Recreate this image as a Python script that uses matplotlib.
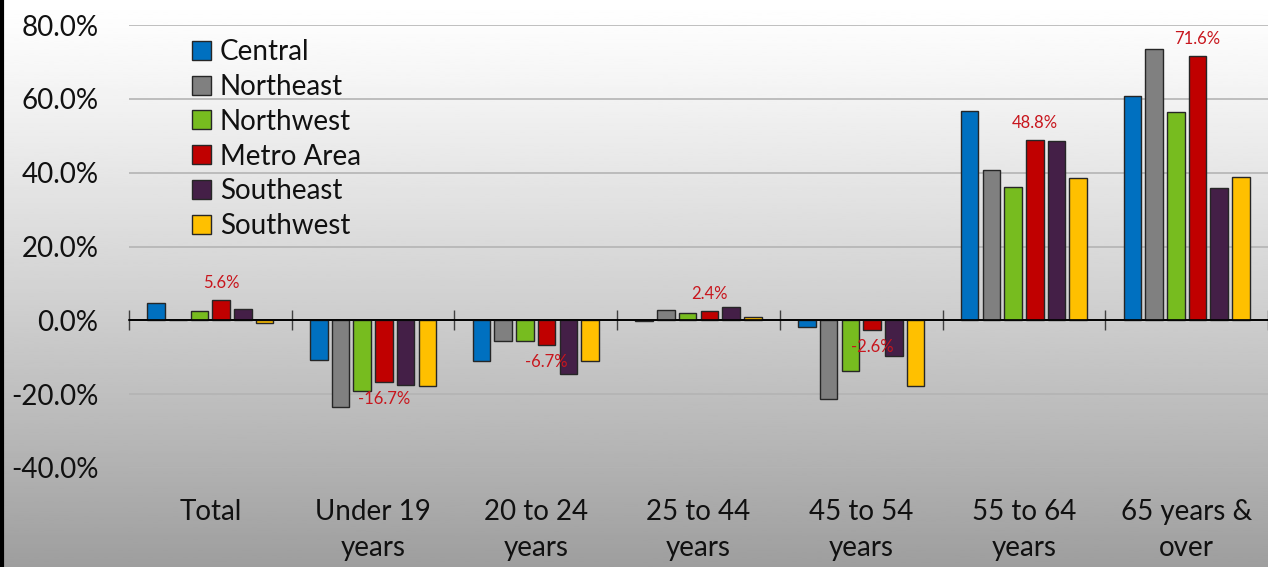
"""Population change by age group and region, grouped bar chart."""

import numpy as np
import matplotlib
matplotlib.use("Agg")
import matplotlib.pyplot as plt
import matplotlib.ticker as ticker
from matplotlib.lines import Line2D

# ---------------------------------------------------------------------------
# Data (percent change)
# ---------------------------------------------------------------------------

CATEGORIES = ["Total", "Under 19\nyears", "20 to 24\nyears", "25 to 44\nyears",
              "45 to 54\nyears", "55 to 64\nyears", "65 years &\nover"]
REGIONS = ["Central", "Northeast", "Northwest", "Metro Area", "Southeast", "Southwest"]

CENTRAL    = [4.8, -10.8, -10.9, -0.2, -1.7, 56.6, 60.7]
NORTHEAST  = [0.2, -23.6, -5.7, 2.7, -21.4, 40.8, 73.4]
NORTHWEST  = [2.4, -19.1, -5.5, 2.1, -13.8, 36.1, 56.4]
METRO_AREA = [5.6, -16.7, -6.7, 2.4, -2.6, 48.8, 71.6]
SOUTHEAST  = [3.2, -17.4, -14.6, 3.5, -9.7, 48.5, 35.9]
SOUTHWEST  = [-0.6, -17.7, -11.1, 0.8, -17.8, 38.6, 38.9]

SERIES = [CENTRAL, NORTHEAST, NORTHWEST, METRO_AREA, SOUTHEAST, SOUTHWEST]
Y_TICKS = [-40, -20, 0, 20, 40, 60, 80]

# ---------------------------------------------------------------------------
# Style
# ---------------------------------------------------------------------------

COLORS = ["#0070C0", "#808080", "#77BC1F", "#C00000", "#441F47", "#FFC000"]
LABEL_COLOR = "#C8161D"
GRID_COLOR = "#b4b4b4"
FONT = "Lato"

BAR_STEP = 0.1335
BAR_WIDTH = 0.108

plt.rcParams["font.family"] = [FONT, "DejaVu Sans"]

fig = plt.figure(figsize=(12.68, 5.67), dpi=100)

# background gradient (white -> grey)
bg = fig.add_axes([0, 0, 1, 1], zorder=-10)
grad = np.linspace(0, 1, 256) ** 1.15
shade = 1.0 - 0.38 * grad
bg.imshow(shade[:, None], aspect="auto", cmap="gray", vmin=0, vmax=1,
          extent=[0, 1, 0, 1], origin="upper")
bg.set_axis_off()

ax = fig.add_axes([129 / 1268, 1 - 468 / 567, (1268 - 129) / 1268, (468 - 25) / 567])
ax.patch.set_alpha(0)

x = np.arange(len(CATEGORIES))
n = len(SERIES)
for i, (name, vals, col) in enumerate(zip(REGIONS, SERIES, COLORS)):
    offs = (i - (n - 1) / 2) * BAR_STEP
    ax.bar(x + offs, vals, BAR_WIDTH, color=col, edgecolor="#262626",
           linewidth=1.0, label=name, zorder=3)

# data labels on the Metro Area series
m_idx = REGIONS.index("Metro Area")
m_off = (m_idx - (n - 1) / 2) * BAR_STEP
for xi, v in zip(x, METRO_AREA):
    ax.annotate(f"{v:.1f}%", (xi + m_off, v), xytext=(0, 17 if v >= 0 else -17),
                textcoords="offset pixels", ha="center", va="center",
                fontsize=12, color=LABEL_COLOR, zorder=5)

ax.set_xlim(-0.5, len(CATEGORIES) - 0.5)
ax.set_ylim(Y_TICKS[0], Y_TICKS[-1])
ax.set_yticks(Y_TICKS)
ax.yaxis.set_major_formatter(ticker.FuncFormatter(lambda v, _: f"{v:.1f}%"))
ax.tick_params(axis="y", length=0, pad=22, labelsize=20, labelcolor="#111111")
ax.set_xticks(x)
ax.set_xticklabels(CATEGORIES, fontsize=20, linespacing=1.5)
ax.tick_params(axis="x", length=0, pad=22, labelcolor="#111111")

for y in Y_TICKS:
    if y != 0:
        ax.axhline(y, color=GRID_COLOR, linewidth=1.2, zorder=1)
for s in ax.spines.values():
    s.set_visible(False)

# zero axis with category boundary ticks
zero_pos = (0 - Y_TICKS[0]) / (Y_TICKS[-1] - Y_TICKS[0])
zax = ax.secondary_xaxis(zero_pos)
zax.set_xticks(np.arange(len(CATEGORIES) + 1) - 0.5)
zax.set_xticklabels([])
zax.tick_params(direction="inout", length=15, width=1.0, color="#404040")
zax.spines["bottom"].set_color("black")
zax.spines["bottom"].set_linewidth(1.2)
ax.axhline(0, color="black", linewidth=1.2, zorder=4)

leg = ax.legend(loc="upper left", bbox_to_anchor=(0.0435, 1.0), frameon=False,
                fontsize=20, handlelength=0.68, handleheight=0.68,
                handletextpad=0.3, labelspacing=0.32, borderpad=0.0)
for t in leg.get_texts():
    t.set_color("#111111")

# left border of the chart frame
fig.add_artist(Line2D([0.0015, 0.0015], [0, 1], transform=fig.transFigure,
                      color="black", linewidth=3))

fig.savefig("out.png", dpi=100)
